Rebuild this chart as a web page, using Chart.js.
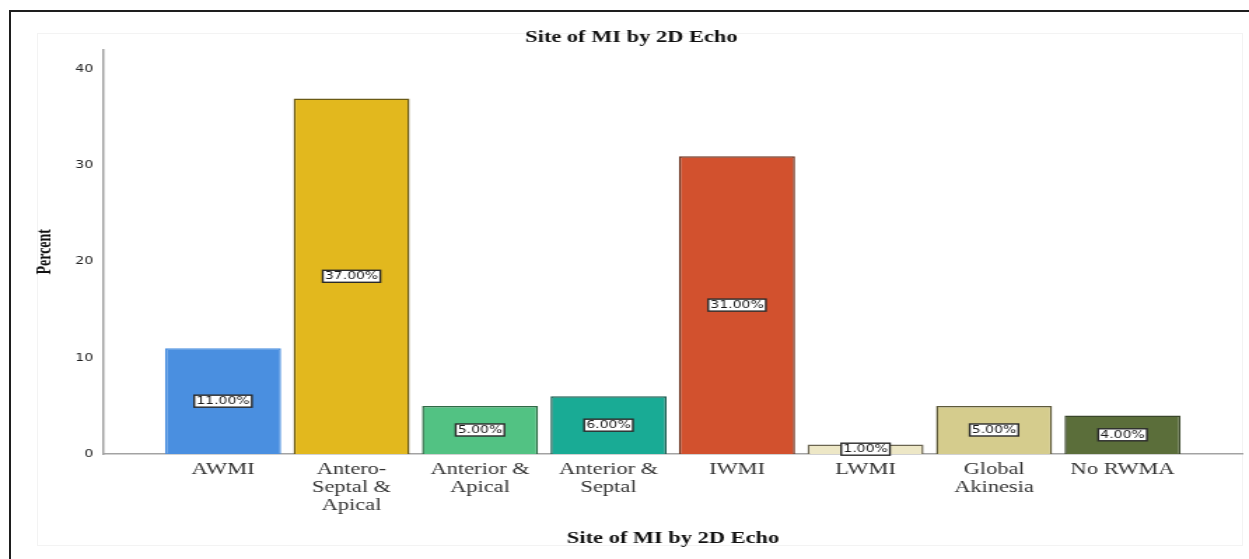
<!DOCTYPE html>
<html>
<head>
<meta charset="utf-8">
<script src="https://cdn.jsdelivr.net/npm/chart.js@4.4.0/dist/chart.umd.min.js"></script>
<style>
  html, body { margin: 0; padding: 0; background: #fff; overflow: hidden; width: 1249px; height: 559px; }
  #frame { position: absolute; left: 9px; top: 10px; width: 1300px; height: 600px;
           border-top: 2px solid #1e1e1e; border-left: 2px solid #1e1e1e; }
  #inner { position: absolute; left: 37px; top: 33px; width: 1204px; height: 511px; border: 1px solid #f3f3f3; }
  /* the plot is drawn on a narrower canvas and widened to the page width */
  #stage { position: absolute; left: 0; top: 0; width: 892px; height: 559px;
           transform: scaleX(1.40022); transform-origin: 0 0; }
</style>
</head>
<body>
<div id="frame"></div>
<div id="inner"></div>
<div id="stage"><canvas id="c" width="892" height="559"></canvas></div>
<script>
// Site of MI by 2D Echo — percent of patients per category
const categories = [
  ["AWMI"],
  ["Antero-", "Septal &", "Apical"],
  ["Anterior &", "Apical"],
  ["Anterior &", "Septal"],
  ["IWMI"],
  ["LWMI"],
  ["Global", "Akinesia"],
  ["No RWMA"]
];
const percents = [11, 37, 5, 6, 31, 1, 5, 4];
const yTicks = [0, 10, 20, 30, 40];
const fillColors = ["#4A8FE0", "#E2B81E", "#52C283", "#19AB95", "#D2512E", "#EDE7C6", "#D5CC8D", "#5B6E3A"];
const edgeColors = ["#4A8FE0", "#6A5A14", "#2F6A45", "#1E5E52", "#6E3420", "#6A6450", "#5E5A3A", "#39462A"];

const SERIF = "'Liberation Serif', 'Times New Roman', serif";
const SANS = "'DejaVu Sans', sans-serif";

// white value tags centred on each bar
const valueTags = {
  id: 'valueTags',
  afterDatasetsDraw(chart) {
    const ctx = chart.ctx;
    const meta = chart.getDatasetMeta(0);
    const data = chart.data.datasets[0].data;
    ctx.save();
    ctx.font = '10px ' + SANS;
    ctx.textAlign = 'center';
    ctx.textBaseline = 'middle';
    meta.data.forEach((bar, i) => {
      const txt = data[i].y.toFixed(2) + '%';
      const { x, y, base } = bar.getProps(['x', 'y', 'base'], true);
      const cy = (y + base) / 2;
      const w = ctx.measureText(txt).width + 3;
      const h = 12;
      ctx.fillStyle = '#ffffff';
      ctx.fillRect(x - w / 2, cy - h / 2, w, h);
      ctx.strokeStyle = '#2a2a2a';
      ctx.lineWidth = 1.4;
      ctx.strokeRect(x - w / 2, cy - h / 2, w, h);
      ctx.fillStyle = '#1a1a1a';
      ctx.fillText(txt, x, cy + 0.5);
    });
    ctx.restore();
  }
};

new Chart(document.getElementById('c'), {
  type: 'bar',
  data: {
    datasets: [{
      data: percents.map((v, i) => ({ x: i, y: v })),
      backgroundColor: fillColors,
      borderColor: edgeColors,
      borderWidth: 1.5,
      categoryPercentage: 0.903,
      barPercentage: 1
    }]
  },
  options: {
    responsive: false,
    animation: false,
    layout: { padding: { left: 14, right: 4.3, top: 0, bottom: 0 } },
    plugins: {
      legend: { display: false },
      tooltip: { enabled: false },
      title: {
        display: true,
        text: 'Site of MI by 2D Echo',
        color: '#111',
        font: { family: SERIF, size: 16, weight: 'bold' },
        padding: { top: 28.4, bottom: 2 }
      }
    },
    scales: {
      x: {
        type: 'linear',
        offset: false,
        min: -0.934,
        max: 7.937,
        afterBuildTicks: s => { s.ticks = categories.map((_, i) => ({ value: i })); },
        grid: { display: false, drawTicks: false },
        border: { display: true, color: '#a3a3a3', width: 1.5 },
        ticks: {
          autoSkip: false,
          maxRotation: 0,
          padding: 7,
          color: '#333',
          font: { family: SERIF, size: 16, lineHeight: 1.125 },
          callback: v => categories[v]
        },
        title: {
          display: true,
          text: 'Site of MI by 2D Echo',
          color: '#111',
          font: { family: SERIF, size: 16, weight: 'bold' },
          padding: { top: 7.4, bottom: 10.4 }
        }
      },
      y: {
        min: 0,
        max: 42.1,
        afterBuildTicks: s => { s.ticks = yTicks.map(v => ({ value: v })); },
        afterFit: s => { s.width = 73.56 - 14; },
        grid: { display: false, drawTicks: false },
        border: { display: true, color: '#a3a3a3', width: 1.5 },
        ticks: {
          padding: 7,
          color: '#222',
          font: { family: SANS, size: 10 }
        },
        title: {
          display: true,
          text: 'Percent',
          color: '#111',
          font: { family: SERIF, size: 14, weight: 'bold' },
          padding: { top: 9.7, bottom: 0 }
        }
      }
    }
  },
  plugins: [valueTags]
});
</script>
</body>
</html>
